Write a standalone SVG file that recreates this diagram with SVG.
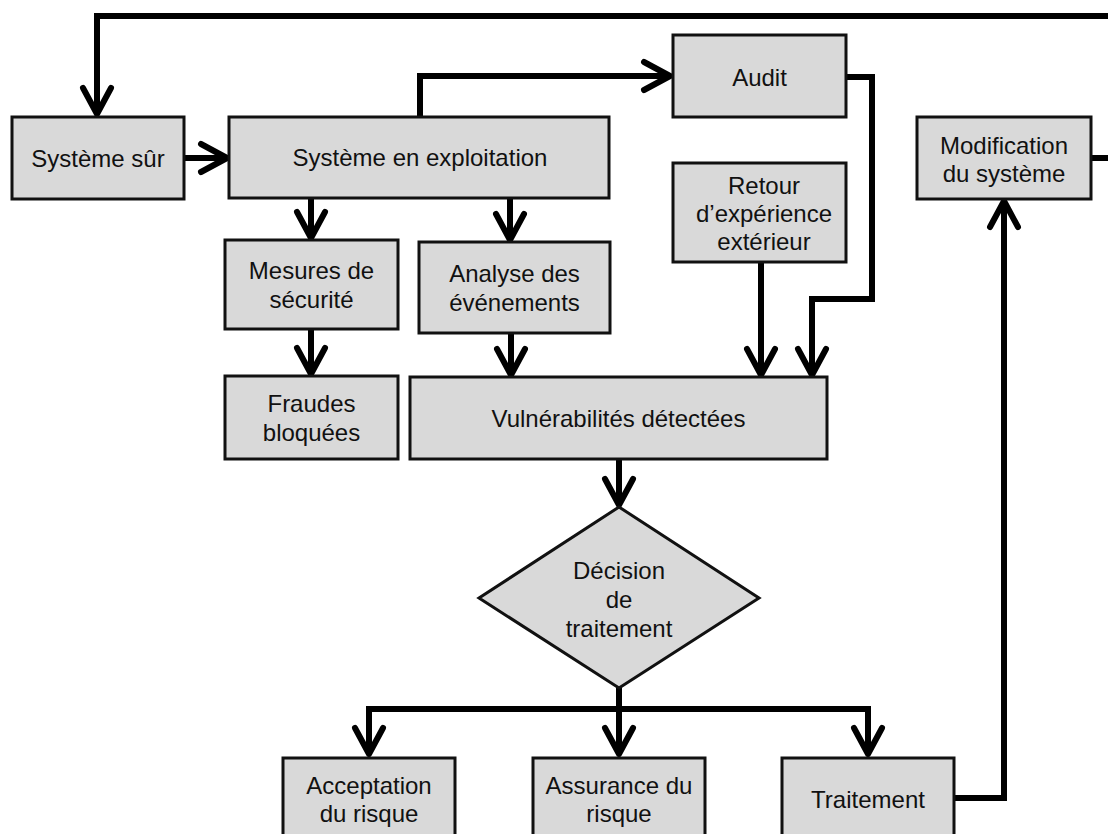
<svg xmlns="http://www.w3.org/2000/svg" width="1108" height="834" viewBox="0 0 1108 834">
<style>
.box{fill:#d9d9d9;stroke:#111;stroke-width:3}
.t{font-family:"Liberation Sans",Arial,sans-serif;font-size:24px;fill:#111;text-anchor:middle}
.c{fill:none;stroke:#000;stroke-width:6;stroke-linejoin:miter}
</style>
<defs>
<marker id="ah" markerUnits="userSpaceOnUse" markerWidth="40" markerHeight="40" viewBox="-32 -20 40 40" refX="0" refY="0" orient="auto" overflow="visible">
<path d="M-26,-14 L0,0 L-26,14" fill="none" stroke="#000" stroke-width="6" stroke-linecap="round" stroke-linejoin="round"/>
</marker>
</defs>
<rect width="1108" height="834" fill="#fff"/>
<g id="connectors">
<path class="c" d="M1091,158 H1140 V16 H97 V114" marker-end="url(#ah)"/>
<path class="c" d="M184,158 H227" marker-end="url(#ah)"/>
<path class="c" d="M420,117 V76 H670" marker-end="url(#ah)"/>
<path class="c" d="M311,198 V238" marker-end="url(#ah)"/>
<path class="c" d="M510,198 V240" marker-end="url(#ah)"/>
<path class="c" d="M311,329 V374" marker-end="url(#ah)"/>
<path class="c" d="M511,333 V375" marker-end="url(#ah)"/>
<path class="c" d="M761,262 V375" marker-end="url(#ah)"/>
<path class="c" d="M846,77 H872 V299 H812 V375" marker-end="url(#ah)"/>
<path class="c" d="M619,459 V505" marker-end="url(#ah)"/>
<path class="c" d="M619,688 V754" marker-end="url(#ah)"/>
<path class="c" d="M619,709 H369 V754" marker-end="url(#ah)"/>
<path class="c" d="M619,709 H868 V754" marker-end="url(#ah)"/>
<path class="c" d="M954,798 H1004 V201" marker-end="url(#ah)"/>
</g>
<g id="systeme-sur"><rect class="box" x="12" y="117" width="172" height="82"/><text class="t" x="98" y="167">Système sûr</text></g>
<g id="systeme-exploitation"><rect class="box" x="229" y="117" width="380" height="81"/><text class="t" x="420" y="166">Système en exploitation</text></g>
<g id="audit"><rect class="box" x="673" y="35" width="173" height="82"/><text class="t" x="759.5" y="86">Audit</text></g>
<g id="retour"><rect class="box" x="673" y="163" width="173" height="99"/><text class="t" x="764" y="194">Retour</text><text class="t" x="764" y="222">d’expérience</text><text class="t" x="764" y="250">extérieur</text></g>
<g id="modification"><rect class="box" x="917" y="117" width="174" height="82"/><text class="t" x="1004" y="154">Modification</text><text class="t" x="1004" y="182">du système</text></g>
<g id="mesures"><rect class="box" x="225" y="240" width="173" height="89"/><text class="t" x="311.5" y="279">Mesures de</text><text class="t" x="311.5" y="308">sécurité</text></g>
<g id="analyse"><rect class="box" x="419" y="242" width="191" height="91"/><text class="t" x="514.5" y="282">Analyse des</text><text class="t" x="514.5" y="311">événements</text></g>
<g id="fraudes"><rect class="box" x="225" y="376" width="173" height="83"/><text class="t" x="311.5" y="412">Fraudes</text><text class="t" x="311.5" y="441">bloquées</text></g>
<g id="vulnerabilites"><rect class="box" x="410" y="377" width="417" height="82"/><text class="t" x="618.5" y="427">Vulnérabilités détectées</text></g>
<g id="decision"><polygon class="box" points="619,507 759,598 619,688 479,598"/><text class="t" x="619" y="579">Décision</text><text class="t" x="619" y="608">de</text><text class="t" x="619" y="637">traitement</text></g>
<g id="acceptation"><rect class="box" x="283" y="758" width="172" height="90"/><text class="t" x="369" y="794">Acceptation</text><text class="t" x="369" y="822">du risque</text></g>
<g id="assurance"><rect class="box" x="533" y="758" width="172" height="90"/><text class="t" x="619" y="794">Assurance du</text><text class="t" x="619" y="822">risque</text></g>
<g id="traitement"><rect class="box" x="782" y="758" width="172" height="90"/><text class="t" x="868" y="808">Traitement</text></g>
</svg>
